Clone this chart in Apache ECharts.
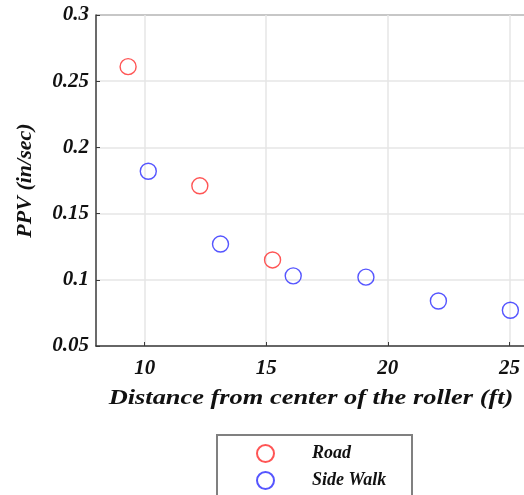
<!DOCTYPE html>
<html>
<head>
<meta charset="utf-8">
<script src="https://cdn.jsdelivr.net/npm/echarts@6/dist/echarts.min.js"></script>
<style>
  html, body { margin: 0; padding: 0; background: #fff; }
  #chart { width: 524px; height: 495px; }
</style>
</head>
<body>
<div id="chart"></div>
<script>
// Peak particle velocity vs. distance from roller
const roadDistance = [9.32, 12.27, 15.26];
const roadPPV = [0.261, 0.171, 0.115];
const sideWalkDistance = [10.15, 13.12, 16.11, 19.10, 22.08, 25.04];
const sideWalkPPV = [0.182, 0.127, 0.103, 0.102, 0.084, 0.077];
const xTicks = [10, 15, 20, 25];
const xTitle = 'Distance from center of the roller (ft)';
const yTitle = 'PPV (in/sec)';

const FONT = '"Liberation Serif", "Times New Roman", serif';
const toPairs = (xs, ys) => xs.map((x, i) => [x, ys[i]]);
const bi = { fontFamily: FONT, fontWeight: 'bold', fontStyle: 'italic', color: '#111' };

const chart = echarts.init(document.getElementById('chart'), null, { renderer: 'canvas' });

const legendText = Object.assign({ fontSize: 18, padding: [0, 0, 0, 33] }, bi);

chart.setOption({
  animation: false,
  backgroundColor: '#fff',
  grid: { left: 96, top: 15, right: 0, bottom: 149, containLabel: false },
  xAxis: {
    type: 'value', min: 8, max: 25.6,
    axisLine: { show: true, onZero: false, lineStyle: { color: '#3a3a3a', width: 1.5 } },
    axisTick: { show: true, inside: true, length: 4, customValues: xTicks, lineStyle: { color: '#3a3a3a' } },
    splitLine: { show: true, lineStyle: { color: '#e6e6e6', width: 1.5 } },
    axisLabel: Object.assign({ fontSize: 21, margin: 12, customValues: xTicks,
      formatter: v => String(v) }, bi)
  },
  yAxis: {
    type: 'value', min: 0.05, max: 0.3, interval: 0.05,
    axisLine: { show: true, onZero: false, lineStyle: { color: '#3a3a3a', width: 1.5 } },
    axisTick: { show: true, inside: true, length: 4, lineStyle: { color: '#3a3a3a' } },
    splitLine: { show: true, lineStyle: { color: '#e6e6e6', width: 1.5 } },
    axisLabel: Object.assign({ fontSize: 21, margin: 7,
      formatter: v => String(+v.toFixed(2)) }, bi),
    name: yTitle,
    nameLocation: 'middle', nameGap: 60, nameRotate: 90,
    nameTextStyle: Object.assign({ fontSize: 22 }, bi)
  },
  legend: [
    { orient: 'vertical', left: 251, top: 439, itemWidth: 17, itemHeight: 17,
      textStyle: legendText, data: [{ name: 'Road', icon: 'circle' }] },
    { orient: 'vertical', left: 251, top: 466, itemWidth: 17, itemHeight: 17,
      textStyle: legendText, data: [{ name: 'Side Walk', icon: 'circle' }] }
  ],
  graphic: [
    // top frame edge
    { type: 'line', shape: { x1: 96, y1: 15, x2: 524, y2: 15 }, style: { stroke: '#3a3a3a', lineWidth: 1.5 }, silent: true },
    // x-axis title, slightly widened like the original typesetting
    { type: 'text', x: 311, y: 398, scaleX: 1.2, originX: 0, originY: 0,
      style: Object.assign({ text: xTitle, fontSize: 22, align: 'center', verticalAlign: 'middle', fill: '#111' },
        { fontFamily: FONT, fontWeight: 'bold', fontStyle: 'italic' }), silent: true },
    // legend frame
    { type: 'rect', shape: { x: 217, y: 435, width: 195, height: 80 }, style: { fill: 'none', stroke: '#808080', lineWidth: 2 }, silent: true }
  ],
  series: [
    {
      name: 'Road', type: 'scatter', symbol: 'circle', symbolSize: 16,
      itemStyle: { color: 'rgba(255,255,255,0)', borderColor: '#ff2a2a', borderWidth: 1.4 },
      data: toPairs(roadDistance, roadPPV)
    },
    {
      name: 'Side Walk', type: 'scatter', symbol: 'circle', symbolSize: 16,
      itemStyle: { color: 'rgba(255,255,255,0)', borderColor: '#2a2aff', borderWidth: 1.4 },
      data: toPairs(sideWalkDistance, sideWalkPPV)
    }
  ]
});
</script>
</body>
</html>
